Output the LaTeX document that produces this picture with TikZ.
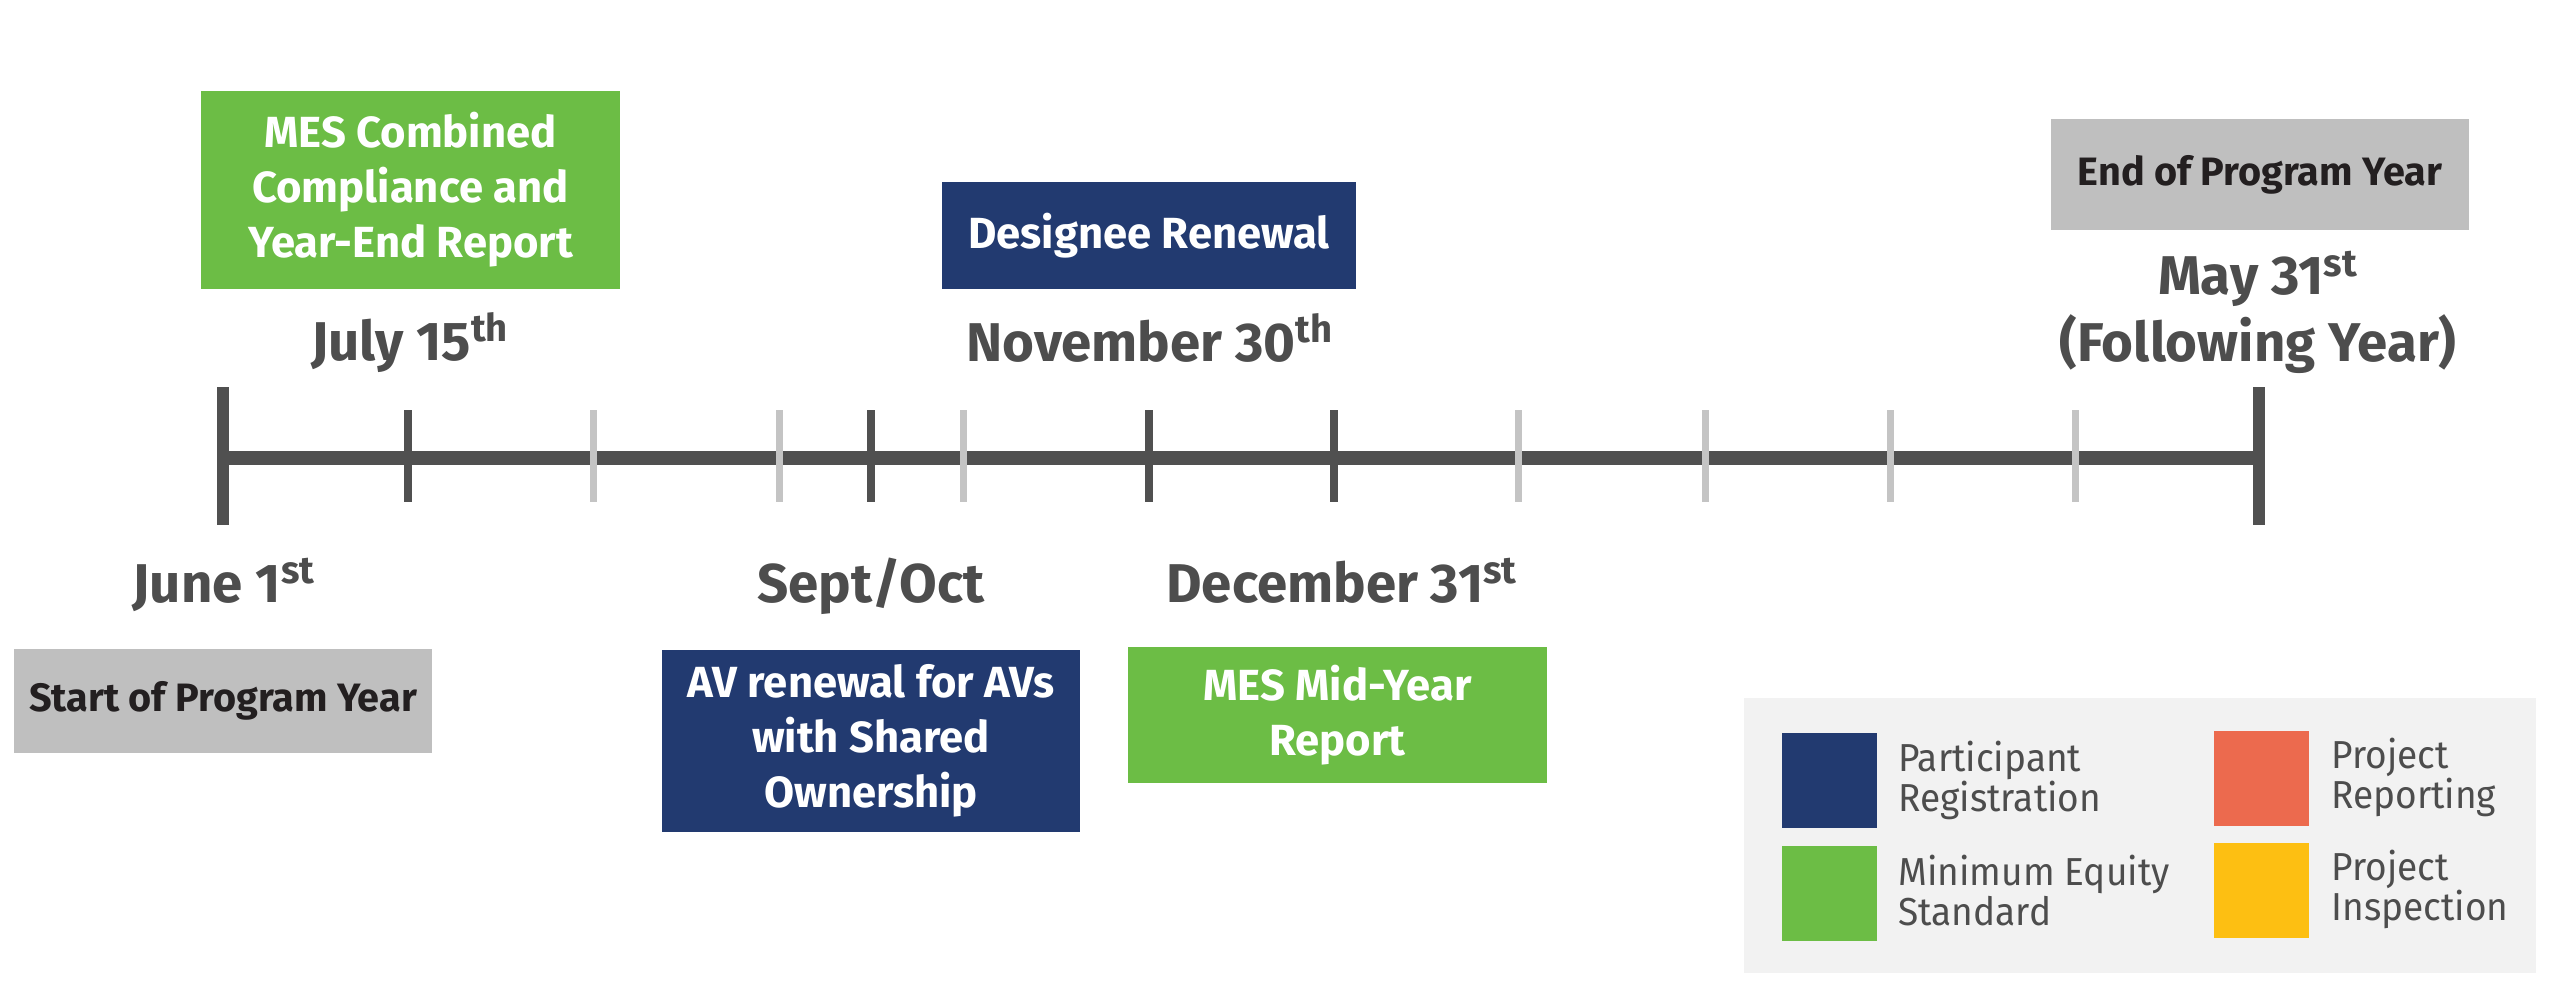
\documentclass[tikz,border=0pt]{standalone}
\usepackage{fontspec}
\setmainfont{Fira Sans}
\newfontfamily\legfont{Fira Sans}[FakeStretch=0.95]
\definecolor{mesgreen}{RGB}{108,189,69}
\definecolor{navy}{RGB}{34,58,112}
\definecolor{boxgray}{RGB}{191,191,191}
\definecolor{datetext}{RGB}{77,77,77}
\definecolor{darktext}{RGB}{35,31,32}
\definecolor{legendbg}{RGB}{242,242,242}
\definecolor{repred}{RGB}{236,106,78}
\definecolor{inspyellow}{RGB}{253,191,18}
\definecolor{lighttick}{RGB}{196,196,196}
\definecolor{lineclr}{RGB}{80,80,80}
\tikzset{
  evbox/.style={inner sep=0pt, align=center, font=\fontsize{21.8}{27.5}\selectfont\bfseries},
  greenbox/.style={evbox, fill=mesgreen, text=white},
  navybox/.style={evbox, fill=navy, text=white},
  graybox/.style={evbox, fill=boxgray, text=darktext, font=\fontsize{19.8}{25}\selectfont\bfseries},
  datelbl/.style={anchor=base, align=center, text=datetext, inner sep=0pt, font=\fontsize{27.3}{33.5}\selectfont\bfseries},
  swatch/.style={inner sep=0pt, minimum width=47.5pt, minimum height=47.5pt},
  legtext/.style={anchor=west, align=left, inner sep=0pt, text=datetext, font=\fontsize{19.5}{20}\legfont},
  bigtick/.style={line width=6pt, draw=lineclr},
  darktick/.style={line width=4pt, draw=lineclr},
  lighttk/.style={line width=3.5pt, draw=lighttick},
}
\begin{document}
\begin{tikzpicture}[x=0.5pt,y=-0.5pt]
\useasboundingbox (0,0) rectangle (2560,1000);
% timeline
\coordinate (tlstart) at (223,458);
\coordinate (tlend) at (2259,458);
\draw[line width=7pt, draw=lineclr] (tlstart) -- (tlend);
\foreach \x in {593,779,963,1518,1705,1890,2075}
  \draw[lighttk] (\x,410) -- (\x,502);
\foreach \x in {408,871,1149,1334}
  \draw[darktick] (\x,410) -- (\x,502);
\draw[bigtick] (223,387) -- (223,525);
\draw[bigtick] (2259,387) -- (2259,525);
% upper boxes
\node[greenbox, minimum width=209.5pt, minimum height=99pt] (mescomb) at (410.5,190) {MES Combined\\Compliance and\\Year-End Report};
\node[navybox, minimum width=207pt, minimum height=53.5pt] (designee) at (1149,235.5) {Designee Renewal};
\node[graybox, minimum width=209pt, minimum height=55.5pt] (endpy) at (2260,174.5) {End of Program Year};
% lower boxes
\node[graybox, minimum width=209pt, minimum height=52pt] (startpy) at (223,701) {Start of Program Year};
\node[navybox, minimum width=209pt, minimum height=91pt] (avren) at (871,741) {AV renewal for AVs\\with Shared\\Ownership};
\node[greenbox, minimum width=209.5pt, minimum height=68pt] (mesmid) at (1337.5,715) {MES Mid-Year\\Report};
% date labels
\node[datelbl] (july) at (410,360) {July 15\textsuperscript{th}};
\node[datelbl] (nov) at (1150,361) {November 30\textsuperscript{th}};
\node[datelbl] (may) at (2258,295) {May 31\textsuperscript{st}};
\node[datelbl] (follow) at (2258,362) {(Following Year)};
\node[datelbl] (june) at (224,602) {June 1\textsuperscript{st}};
\node[datelbl] (septoct) at (871,602) {Sept/Oct};
\node[datelbl] (dec) at (1342,602) {December 31\textsuperscript{st}};
% legend
\node[fill=legendbg, inner sep=0pt, minimum width=396pt, minimum height=137.5pt] (legend) at (2140,835.5) {};
\node[swatch, fill=navy] (swpr) at (1829,780.5) {};
\node[swatch, fill=mesgreen] (swmes) at (1829,893) {};
\node[swatch, fill=repred] (swrep) at (2261.5,778.5) {};
\node[swatch, fill=inspyellow] (swins) at (2261.5,890.5) {};
\node[legtext] (ltpr) at (1898,780) {Participant\\Registration};
\node[legtext] (ltmes) at (1898,891) {Minimum Equity\\Standard};
\node[legtext] (ltrep) at (2331,777) {Project\\Reporting};
\node[legtext] (ltins) at (2331,889) {Project\\Inspection};
\end{tikzpicture}
\end{document}
